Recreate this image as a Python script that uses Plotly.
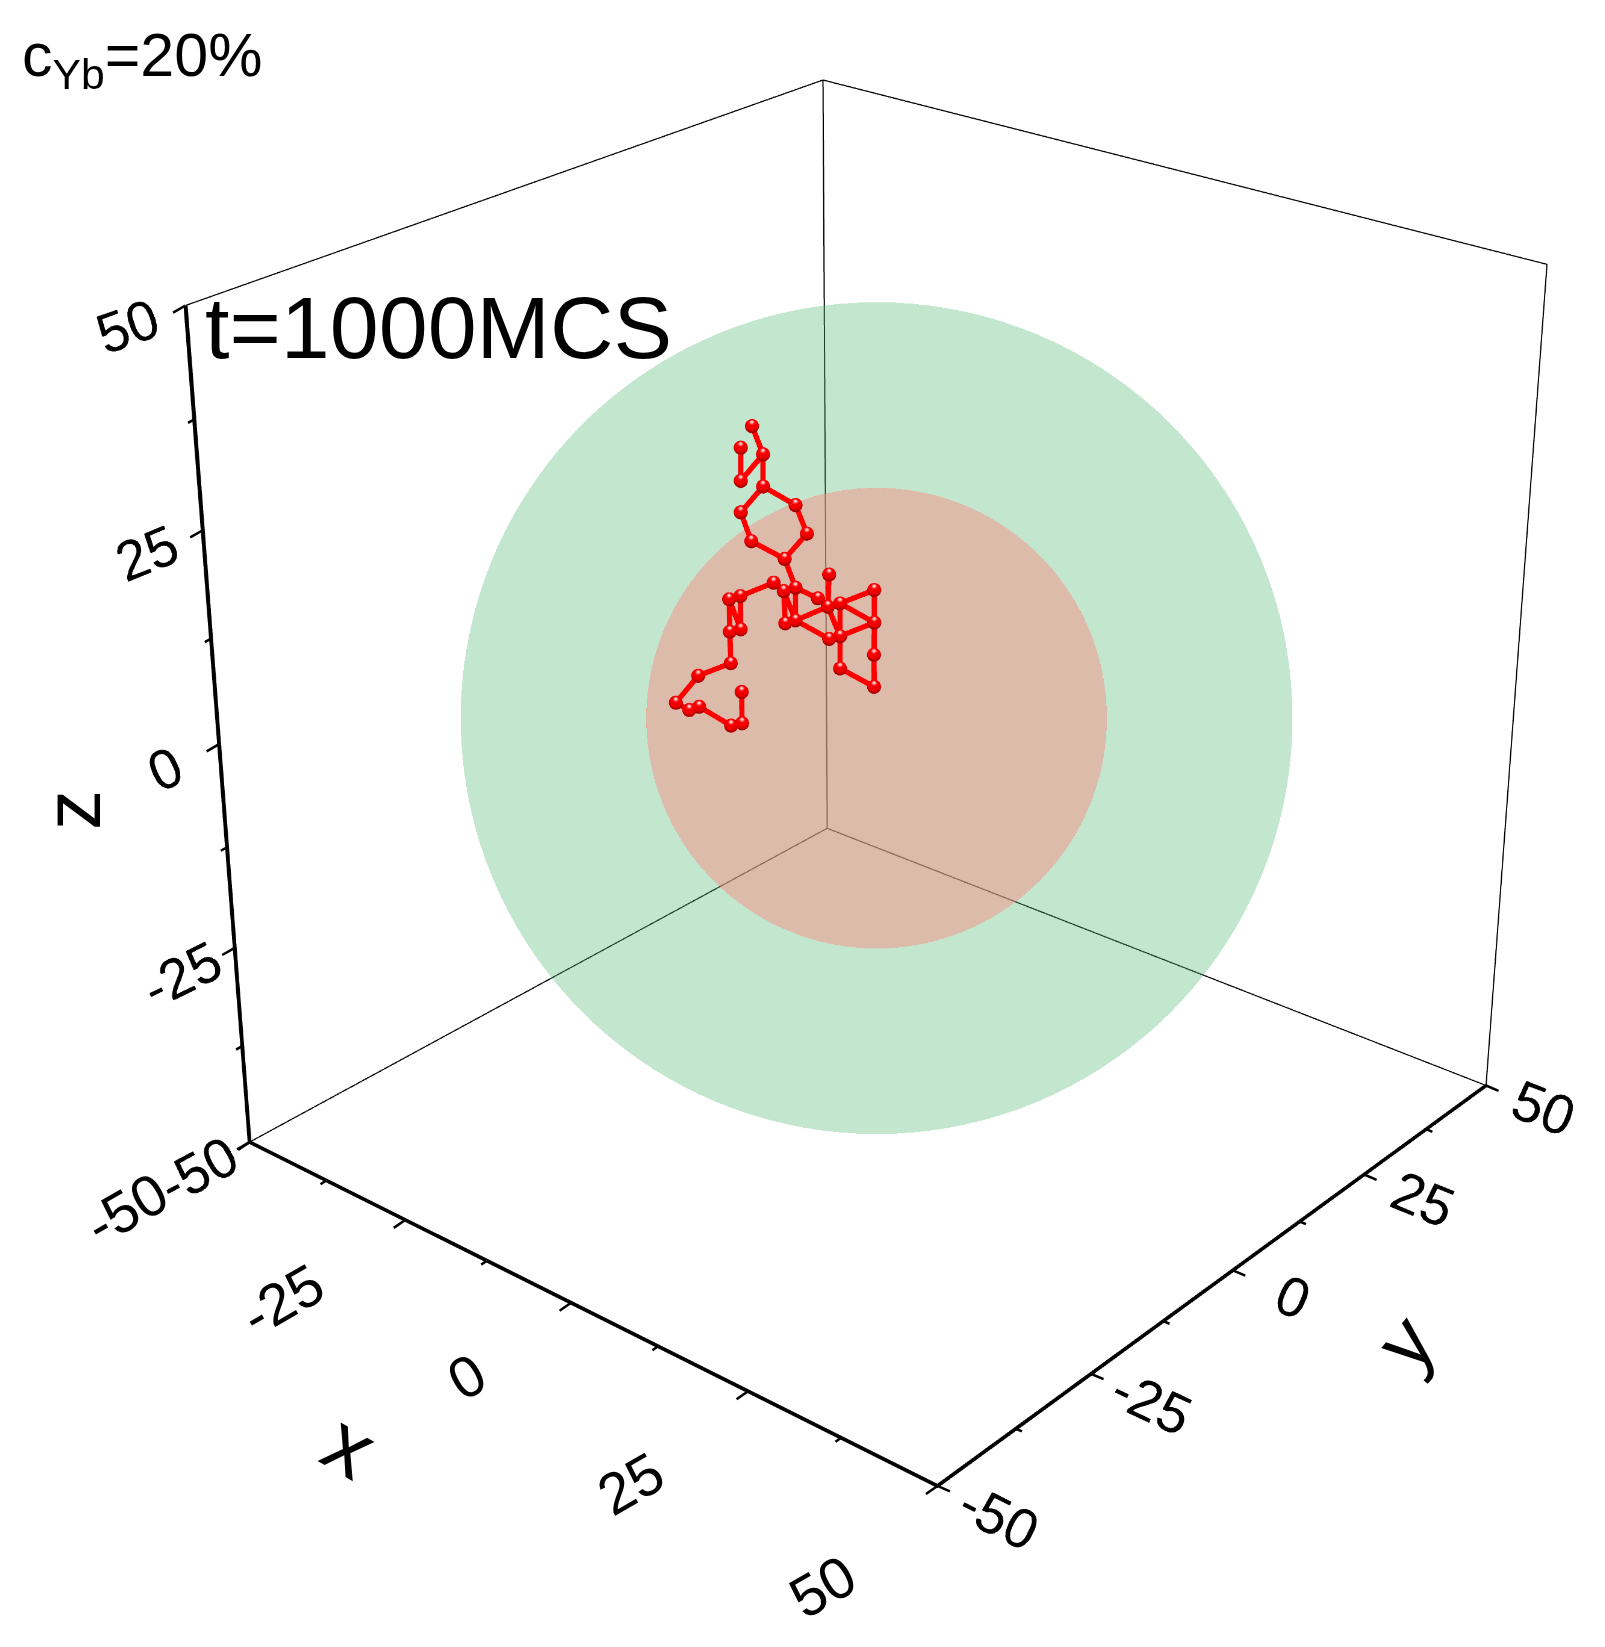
import numpy as np
import plotly.graph_objects as go

# ---------- data ----------
axis_lo, axis_hi = -50, 50
tick_vals = [-50, -37.5, -25, -12.5, 0, 12.5, 25, 37.5, 50]
tick_text = ["-50", "", "-25", "", "0", "", "25", "", "50"]
x_label_px = [(126, 1208), (282, 1299), (466, 1376), (630, 1483), (822, 1586)]
radius_outer = 45.0
radius_inner = 25.0
sphere_centre = [0.13, 0.11, 0.1]
bead_radius = 0.78

bead_x = [-19.55,-17.74,-18.77,-19.81,-16.73,-17.78,-15.99,-12.66,-11.60,-13.44,-10.85,-11.73,-12.83,-15.18,-16.02,-14.95,-14.12,-13.88,-16.20,-17.21,-15.87,-15.15,-11.90,-11.06,-12.07,-10.59,-9.83,-8.65,-8.46,-7.56,-6.65,-4.22,-3.19,-6.44,-5.62,-2.21,-4.61,-1.20]
bead_y = [2.47,2.19,-0.36,0.88,0.99,-1.54,-1.88,-0.21,2.30,2.56,-0.52,-1.48,-1.87,-4.69,-5.60,-6.76,-5.91,-7.87,-10.61,-13.19,-12.52,-11.70,-10.17,-9.32,-8.18,-2.57,-1.74,0.64,2.32,1.03,2.01,4.90,3.68,-0.09,0.78,2.46,-0.42,1.27]
bead_z = [28.42,25.67,23.09,26.32,22.54,20.02,17.21,15.49,17.95,20.73,12.68,12.36,13.17,11.87,11.56,8.41,8.64,5.34,4.12,1.50,0.79,1.11,-0.73,-0.50,2.54,9.22,9.51,11.65,13.97,10.84,11.16,12.46,9.29,7.70,7.96,6.16,4.83,3.05]
chain_paths = [
    [4,3,2,1], [2,5,6,7,8,9,10,5], [8,11,27,12,26], [12,13,14,17,15,16,18,19,20,21,22,23,24,25],
    [11,28,30,35,37,38,36,33,32,31,33], [29,30], [31,35], [27,30,31,32], [33,35,34,27],
]

# ---------- view ----------
# The reference has a long lens: plotly's fixed 45 degree field of view needs a large canvas,
# of which the page shows the window around the cube.
W = H = 3468
view_dir = np.array([0.578, -0.689, 0.438])
eye_dist = 4.55
roll = 0.018
OFF_X, OFF_Y = 859, 1015

def hemisphere(r, c, n_theta=40, n_phi=144, cap=95):
    n = view_dir / np.linalg.norm(view_dir)
    a = np.cross(n, [0, 0, 1.0]); a /= np.linalg.norm(a)
    b = np.cross(n, a)
    th = np.radians(np.linspace(1e-3, cap, n_theta))
    ph = np.linspace(0, 2*np.pi, n_phi, endpoint=False)
    T, P = np.meshgrid(th, ph, indexing="ij")
    pts = (np.cos(T)[..., None]*(-n) + (np.sin(T)*np.cos(P))[..., None]*a + (np.sin(T)*np.sin(P))[..., None]*b) * r + c
    pts = pts.reshape(-1, 3)
    I, J, K = [], [], []
    for t in range(n_theta-1):
        for p in range(n_phi):
            q = (p+1) % n_phi
            v00, v01 = t*n_phi+p, t*n_phi+q
            v10, v11 = (t+1)*n_phi+p, (t+1)*n_phi+q
            I += [v00, v01]; J += [v10, v10]; K += [v01, v11]
    return pts, I, J, K

def ball_mesh(xs, ys, zs, r, n_t=12, n_p=18):
    th = np.linspace(0, np.pi, n_t)
    ph = np.linspace(0, 2*np.pi, n_p, endpoint=False)
    T, P = np.meshgrid(th, ph, indexing="ij")
    unit = np.stack([np.sin(T)*np.cos(P), np.sin(T)*np.sin(P), np.cos(T)], -1).reshape(-1, 3)
    V, I, J, K = [], [], [], []
    for c, (x, y, z) in enumerate(zip(xs, ys, zs)):
        V.append(unit*r + [x, y, z])
        o = c*n_t*n_p
        for t in range(n_t-1):
            for p in range(n_p):
                q = (p+1) % n_p
                a, b, d, e = o+t*n_p+p, o+t*n_p+q, o+(t+1)*n_p+p, o+(t+1)*n_p+q
                I += [a, b]; J += [d, d]; K += [b, e]
    return np.vstack(V), I, J, K

flat = dict(ambient=1, diffuse=0, specular=0, fresnel=0, roughness=1)
fig = go.Figure()

# thin frame on the back faces
lo, hi = axis_lo, axis_hi
fx = [lo, lo, hi, None, lo, lo, None, lo, lo, hi, hi]
fy = [lo, hi, hi, None, hi, hi, None, lo, hi, hi, hi]
fz = [lo, lo, lo, None, lo, hi, None, hi, hi, hi, lo]
fig.add_trace(go.Scatter3d(x=fx, y=fy, z=fz, mode="lines", line=dict(color="black", width=2),
                           hoverinfo="skip", showlegend=False))

for r, col, op in [(radius_outer, "rgb(84,184,115)", 0.35), (radius_inner, "rgb(247,144,134)", 0.5)]:
    pts, I, J, K = hemisphere(r, np.array(sphere_centre))
    fig.add_trace(go.Mesh3d(x=pts[:, 0], y=pts[:, 1], z=pts[:, 2], i=I, j=J, k=K, color=col, opacity=op,
                            lighting=flat, flatshading=True, hoverinfo="skip", showscale=False))

cx, cy, cz = [], [], []
for path in chain_paths:
    for n in path:
        cx.append(bead_x[n-1]); cy.append(bead_y[n-1]); cz.append(bead_z[n-1])
    cx.append(None); cy.append(None); cz.append(None)
fig.add_trace(go.Scatter3d(x=cx, y=cy, z=cz, mode="lines", line=dict(color="#ff0000", width=9),
                           hoverinfo="skip", showlegend=False))
V, I, J, K = ball_mesh(bead_x, bead_y, bead_z, bead_radius)
fig.add_trace(go.Mesh3d(x=V[:, 0], y=V[:, 1], z=V[:, 2], i=I, j=J, k=K, color="#f00000",
                        lighting=dict(ambient=0.7, diffuse=0.6, specular=1.0, roughness=0.25, fresnel=0.1),
                        lightposition=dict(x=-1150, y=-7970, z=11630), hoverinfo="skip", showscale=False))

def axis(ticklen, texts):
    # the native tick length sets how far out the labels sit; the visible short marks are scene annotations
    return dict(range=[lo, hi], autorange=False, tickmode="array", tickvals=tick_vals, ticktext=texts,
                showgrid=False, zeroline=False, showbackground=False, showspikes=False,
                showline=True, linecolor="black", linewidth=7, ticks="outside", ticklen=ticklen, tickwidth=1,
                tickcolor="rgba(255,255,255,0)", tickfont=dict(family="Liberation Sans", size=23.5, color="black"),
                title=dict(text="", font=dict(family="Liberation Sans", size=76, color="black")))

def label(text, px, py, size, angle=0, anchor="center"):
    return dict(text=text, x=(px+OFF_X)/W, y=1-(py+OFF_Y)/H, xref="paper", yref="paper", xanchor=anchor, yanchor="middle",
                textangle=angle, showarrow=False, font=dict(family="Liberation Sans", size=size, color="black"))

def tick_mark(x, y, z, ax, ay):
    return dict(x=x, y=y, z=z, ax=ax, ay=ay, text=" ", font=dict(size=1), showarrow=True, arrowhead=0,
                arrowwidth=2.5, arrowcolor="black", standoff=0, startstandoff=0)

scene_marks = []
for v, text in zip(tick_vals, tick_text):
    k = 1.0 if text else 0.55
    scene_marks.append(tick_mark(v, lo, lo, -13*k, 9*k))    # x axis
    scene_marks.append(tick_mark(hi, v, lo, 14*k, 6*k))     # y axis
    scene_marks.append(tick_mark(lo, lo, v, -14*k, 8*k))    # z axis

x_labels = [t for t in tick_text if t]
eye = view_dir*eye_dist
n = view_dir/np.linalg.norm(view_dir)
right = np.cross(n*-1, [0, 0, 1.0]); right /= np.linalg.norm(right)
up_vec = np.array([0, 0, 1.0]) + roll*right
fig.update_layout(
    width=W, height=H, margin=dict(l=0, r=0, t=0, b=0), paper_bgcolor="white", showlegend=False,
    scene=dict(
        domain=dict(x=[0, 1], y=[0, 1]),
        aspectmode="manual", aspectratio=dict(x=1, y=1, z=1),
        xaxis=axis(31, [""]*len(tick_vals)), yaxis=axis(31, tick_text), zaxis=axis(30, tick_text),
        camera=dict(center=dict(x=0, y=0, z=0), eye=dict(x=eye[0], y=eye[1], z=eye[2]),
                    up=dict(x=up_vec[0], y=up_vec[1], z=up_vec[2]), projection=dict(type="perspective")),
        annotations=scene_marks,
    ),
    annotations=[
        label("c<sub>Yb</sub>=20%", 20, 59, 61, anchor="left"),
        label("t=1000MCS", 203, 328, 88, anchor="left"),
        label("x", 350, 1445, 85, angle=30),
        label("y", 1405, 1342, 80, angle=-50),
        label("z", 72, 810, 80, angle=-90),
    ] + [label(t, p[0], p[1], 58, angle=-30) for t, p in zip(x_labels, x_label_px)],
)
post = ("document.documentElement.style.overflow='hidden';document.body.style.overflow='hidden';"
        "document.body.style.margin='0';"
        "var d=document.querySelector('.plotly-graph-div');d.style.position='absolute';"
        f"d.style.left='-{OFF_X}px';d.style.top='-{OFF_Y}px';")
fig.write_html("out.html", post_script=post)
